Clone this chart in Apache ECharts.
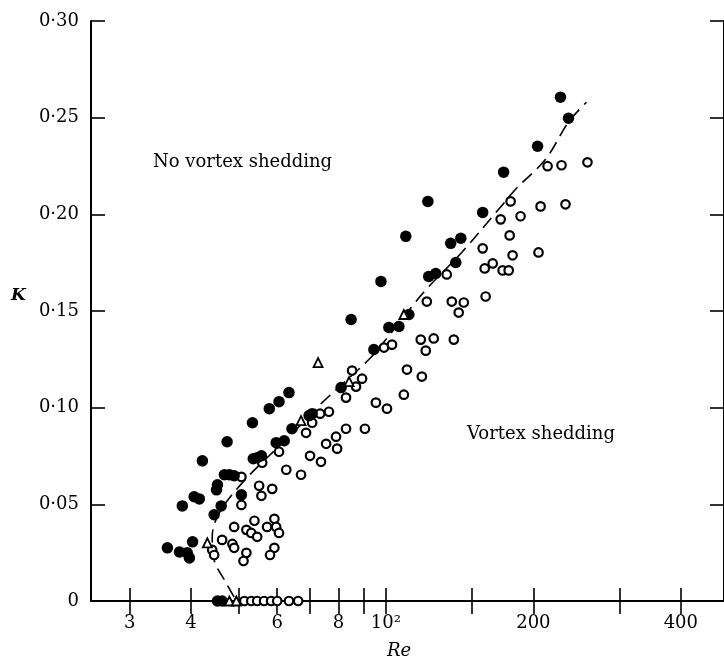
<!DOCTYPE html>
<html><head><meta charset="utf-8">
<script src="https://cdn.jsdelivr.net/npm/echarts@6/dist/echarts.min.js"></script>
<style>html,body{margin:0;padding:0;background:#fff}#c{width:724px;height:664px}</style>
</head><body><div id="c"></div>
<script>
// ---- data (Re, K) ----
const filledRe = [35.8,37.9,39.3,39.7,40.3,38.4,40.6,41.6,42.2,45.1,45.3,46.1,44.6,47.4,46.8,47.9,49.0,50.7,53.4,53.6,54.6,55.7,57.8,60.5,63.4,59.7,62.0,64.3,69.7,70.7,81.0,84.9,94.5,101.4,106.3,111.4,97.7,109.8,121.8,122.3,126.4,135.6,142.2,138.9,157.6,173.9,204.0,227.2,235.9,45.3,46.3];
const filledK = [0.0275,0.0254,0.0249,0.0223,0.0306,0.0492,0.0539,0.0528,0.0725,0.0575,0.0601,0.0492,0.0446,0.0824,0.0653,0.0653,0.0648,0.0549,0.0922,0.0736,0.0741,0.0751,0.0995,0.1031,0.1078,0.0819,0.0829,0.0891,0.0959,0.0969,0.1104,0.1456,0.1301,0.1415,0.1420,0.1482,0.1653,0.1886,0.2067,0.1679,0.1694,0.1850,0.1876,0.1751,0.2010,0.2218,0.2352,0.2606,0.2497,0,0];

const openRe = [70.7,68.7,60.5,55.9,50.7,62.6,67.1,70.0,73.7,55.1,55.7,58.6,50.7,49.0,51.9,53.1,54.6,53.9,57.2,59.2,59.7,60.5,46.3,48.6,49.0,44.2,44.6,51.9,51.2,59.2,58.0,73.4,76.5,85.3,89.4,86.9,82.9,110.4,118.4,108.8,95.4,100.5,79.1,75.5,79.5,82.9,90.6,99.1,102.9,117.8,125.2,120.6,137.6,121.2,136.3,144.2,140.8,133.1,159.1,165.2,173.1,178.1,157.6,181.4,204.9,178.9,171.5,188.3,179.7,206.9,232.6,213.8,228.3,257.9,159.8,51.4,53.1,54.6,56.4,58.3,60.0,63.4,66.2];
const openK = [0.0922,0.0870,0.0772,0.0715,0.0642,0.0679,0.0653,0.0751,0.0720,0.0596,0.0544,0.0580,0.0497,0.0383,0.0368,0.0352,0.0332,0.0415,0.0383,0.0425,0.0383,0.0352,0.0316,0.0295,0.0275,0.0264,0.0238,0.0249,0.0207,0.0275,0.0238,0.0969,0.0979,0.1192,0.1150,0.1109,0.1052,0.1197,0.1161,0.1067,0.1026,0.0995,0.0850,0.0813,0.0788,0.0891,0.0891,0.1311,0.1326,0.1352,0.1358,0.1295,0.1352,0.1549,0.1549,0.1544,0.1492,0.1689,0.1720,0.1746,0.1710,0.1710,0.1824,0.1788,0.1803,0.1891,0.1974,0.1990,0.2067,0.2041,0.2052,0.2249,0.2254,0.2269,0.1575,0,0,0,0,0,0,0,0];

const triRe = [43.2,67.1,72.7,84.1,108.8,47.9,49.5];
const triK = [0.0301,0.0933,0.1233,0.1135,0.1482,0,0];

const curveRe = [49.0,47.2,44.6,44.2,45.7,50.9,58.6,69.7,74.1,92.3,100,113.0,122.4,142.8,169.9,184.0,211.8,235.9,256.7];
const curveK = [0.002,0.0093,0.0212,0.0332,0.0456,0.0611,0.0767,0.0953,0.1026,0.1249,0.1352,0.1523,0.1627,0.1803,0.2026,0.2130,0.2285,0.2477,0.258];

const xTickValues = [30,40,50,60,70,80,90,100,150,200,300,400];
const xLabelValues = [30,40,60,80,100,200,400];
const xLabelTexts = ['3','4','6','8','10²','200','400'];

// ---- chart ----
const FONT = '"DejaVu Serif", "Liberation Serif", serif';
const pairs = (xs, ys) => xs.map((x, i) => [x, ys[i]]);
const chart = echarts.init(document.getElementById('c'), null, {renderer: 'canvas'});

const xBase = {
  type: 'log', logBase: 10, min: 25, max: 490,
  axisLine: {show: true, lineStyle: {color: '#000', width: 2}},
  axisTick: {show: true, inside: true, length: 13, customValues: xTickValues, lineStyle: {color: '#000', width: 1.6}},
  splitLine: {show: false},
  minorTick: {show: false}
};
const yBase = {
  type: 'value', min: 0, max: 0.30, interval: 0.05,
  axisLine: {show: true, lineStyle: {color: '#000', width: 2}},
  axisTick: {show: true, inside: true, length: 14, lineStyle: {color: '#000', width: 1.6}},
  splitLine: {show: false}
};

chart.setOption({
  animation: false,
  backgroundColor: '#fff',
  grid: {left: 91, right: -2, top: 21, bottom: 63, containLabel: false},
  xAxis: [
    Object.assign({}, xBase, {
      position: 'bottom',
      axisLabel: {
        show: true, customValues: xLabelValues, margin: 13,
        color: '#000', fontFamily: FONT, fontSize: 18,
        formatter: v => {
          const i = xLabelValues.findIndex(t => Math.abs(t - v) / t < 1e-3);
          return i >= 0 ? xLabelTexts[i] : '';
        }
      }
    }),
    Object.assign({}, xBase, {position: 'top', axisLabel: {show: false}})
  ],
  yAxis: [
    Object.assign({}, yBase, {
      position: 'left',
      axisLabel: {
        show: true, margin: 12, color: '#000', fontFamily: FONT, fontSize: 18,
        formatter: v => v === 0 ? '0' : v.toFixed(2).replace('.', '·')
      }
    }),
    Object.assign({}, yBase, {position: 'right', axisLabel: {show: false}})
  ],
  graphic: [
    {type: 'text', left: 153, top: 153, style: {text: 'No vortex shedding', fill: '#000', font: '18px ' + FONT}},
    {type: 'text', left: 467, top: 425, style: {text: 'Vortex shedding', fill: '#000', font: '18px ' + FONT}},
    {type: 'text', left: 11, top: 287, style: {text: 'K', fill: '#000', font: 'italic bold 17px ' + FONT}},
    {type: 'text', left: 387, top: 642, style: {text: 'Re', fill: '#000', font: 'italic 18px ' + FONT}}
  ],
  series: [
    {
      type: 'line', data: pairs(curveRe, curveK), smooth: 0.35, symbol: 'none',
      lineStyle: {color: '#000', width: 1.6, type: [13, 7]}, z: 1, silent: true
    },
    {
      type: 'scatter', data: pairs(openRe, openK), symbol: 'circle', symbolSize: 8.5,
      itemStyle: {color: '#fff', borderColor: '#000', borderWidth: 2.2, opacity: 1}, z: 3
    },
    {
      type: 'scatter', data: pairs(filledRe, filledK), symbol: 'circle', symbolSize: 11.5,
      itemStyle: {color: '#000', opacity: 1}, z: 4
    },
    {
      type: 'scatter', data: pairs(triRe, triK), symbol: 'triangle', symbolSize: 9,
      itemStyle: {color: '#fff', borderColor: '#000', borderWidth: 1.8, opacity: 1}, z: 5
    }
  ]
});
</script>
</body></html>
